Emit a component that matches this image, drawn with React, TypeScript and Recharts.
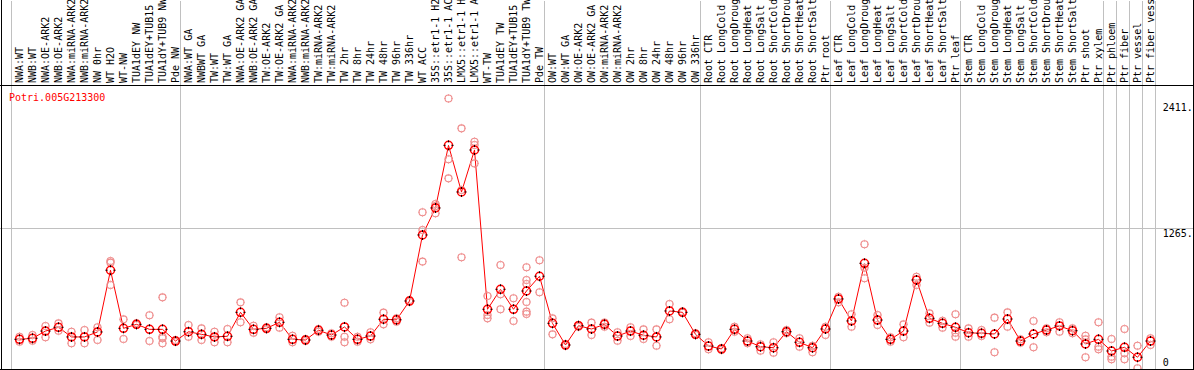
import React from 'react';
import { ComposedChart, Line, Scatter, XAxis, YAxis, ReferenceLine } from 'recharts';

// ---------- data ----------
const title = 'Potri.005G213300';

const labelsNW = ['NWA:WT', 'NWB:WT', 'NWA:OE-ARK2', 'NWB:OE-ARK2', 'NWA:miRNA-ARK2', 'NWB:miRNA-ARK2', 'NW 0hr', 'WT H2O', 'WT-NW', 'TUA1dEY NW', 'TUA1dEY+TUB15', 'TUA1dY+TUB9 NW', 'Pde NW'];
const labelsTW = ['NWA:WT GA', 'NWBWT GA', 'TW:WT', 'TW:WT GA', 'NWA:OE-ARK2 GA', 'NWB:OE-ARK2 GA', 'TW:OE-ARK2', 'TW:OE-ARK2 GA', 'NWA:miRNA-ARK2', 'NWB:miRNA-ARK2', 'TW:miRNA-ARK2', 'TW:miRNA-ARK2', 'TW 2hr', 'TW 8hr', 'TW 24hr', 'TW 48hr', 'TW 96hr', 'TW 336hr', 'WT ACC', '35S::etr1-1 H2', '35S::etr1-1 AC', 'LMX5::etr1-1 H', 'LMX5::etr1-1 A', 'WT-TW', 'TUA1dEY TW', 'TUA1dEY+TUB15', 'TUA1dY+TUB9 TW', 'Pde TW'];
const labelsOW = ['OW:WT', 'OW:WT GA', 'OW:OE-ARK2', 'OW:OE-ARK2 GA', 'OW:miRNA-ARK2', 'OW:miRNA-ARK2', 'OW 2hr', 'OW 8hr', 'OW 24hr', 'OW 48hr', 'OW 96hr', 'OW 336hr'];
const labelsRoot = ['Root CTR', 'Root LongCold', 'Root LongDroug', 'Root LongHeat', 'Root LongSalt', 'Root ShortCold', 'Root ShortDrou', 'Root ShortHeat', 'Root ShortSalt', 'Ptr root'];
const labelsLeaf = ['Leaf CTR', 'Leaf LongCold', 'Leaf LongDroug', 'Leaf LongHeat', 'Leaf LongSalt', 'Leaf ShortCold', 'Leaf ShortDrou', 'Leaf ShortHeat', 'Leaf ShortSalt', 'Ptr leaf'];
const labelsStem = ['Stem CTR', 'Stem LongCold', 'Stem LongDroug', 'Stem LongHeat', 'Stem LongSalt', 'Stem ShortCold', 'Stem ShortDrou', 'Stem ShortHeat', 'Stem ShortSalt', 'Ptr shoot', 'Ptr xylem'];
const labelsPtr = ['Ptr phloem', 'Ptr fiber', 'Ptr vessel', 'Ptr fiber vess'];

const meansNW = [288, 297, 361, 394, 309, 309, 353, 897, 385, 420, 376, 376, 273];
const meansTW = [355, 332, 309, 315, 526, 376, 385, 438, 288, 282, 368, 326, 397, 288, 317, 465, 460, 626, 1208, 1446, 1998, 1587, 1957, 553, 729, 553, 714, 844];
const meansOW = [429, 238, 408, 379, 420, 317, 361, 324, 309, 538, 526, 332];
const meansRoot = [229, 203, 376, 273, 223, 214, 355, 262, 214, 379];
const meansLeaf = [644, 450, 958, 458, 288, 361, 811, 473, 429, 394];
const meansStem = [346, 341, 335, 467, 273, 335, 370, 406, 364, 247, 288];
const meansPtr = [185, 218, 130, 273];

const repsNW = [[311, 267], [326, 276], [405, 306], [429, 364], [355, 253], [370, 253], [394, 282], [978, 964, 767], [464, 291], [429, 414], [500, 273], [658, 311, 297, 253], [282, 267]];
const repsTW = [[414, 311], [385, 282], [355, 262], [379, 262], [614, 438], [408, 346], [394, 376], [482, 391], [320, 262], [291, 273], [379, 355], [341, 311], [611, 311, 262], [311, 267], [350, 288], [523, 420], [473, 444], [635, 617], [1408, 1252, 973], [1481, 1463, 1399], [2411, 1875, 1707], [2148, 1604, 1011], [2030, 2001, 1839], [670, 502, 473], [943, 685, 553], [650, 450], [923, 811, 776, 617, 532, 511], [985, 703]];
const repsOW = [[473, 332], [247, 229], [414, 399], [435, 326], [435, 399], [350, 276], [394, 317], [376, 291], [376, 232], [599, 465], [532, 523], [341, 326]];
const repsRoot = [[262, 200], [209, 194], [399, 355], [297, 253], [244, 188], [262, 170], [370, 341], [297, 223], [232, 174], [399, 326]];
const repsLeaf = [[664, 614], [509, 399], [1126, 919, 826], [502, 414], [306, 267], [420, 306], [840, 767], [517, 435], [452, 391], [509, 346, 311]];
const repsStem = [[385, 311], [370, 317], [479, 174], [526, 399], [288, 258], [450, 218], [385, 350], [438, 355], [385, 341], [320, 288, 130], [438, 223, 200]];
const repsPtr = [[291, 135, 112], [379, 165, 112], [232, 33], [297, 238]];

const yTicks = [0, 1265, 2411];
const yTickLabels = ['0', '1265.', '2411.'];

// ---------- derived tables ----------
const groups = [
  { labels: labelsNW, means: meansNW, reps: repsNW },
  { labels: labelsTW, means: meansTW, reps: repsTW },
  { labels: labelsOW, means: meansOW, reps: repsOW },
  { labels: labelsRoot, means: meansRoot, reps: repsRoot },
  { labels: labelsLeaf, means: meansLeaf, reps: repsLeaf },
  { labels: labelsStem, means: meansStem, reps: repsStem },
  // each Ptr tissue is its own separated column
  ...labelsPtr.map((l, k) => ({ labels: [l], means: [meansPtr[k]], reps: [repsPtr[k]] })),
];

const rows: { i: number; label: string; mean: number }[] = [];
const repPoints: { i: number; v: number }[] = [];
const boundaries: number[] = [];
groups.forEach((g) => {
  boundaries.push(rows.length);
  g.labels.forEach((label, k) => {
    const i = rows.length;
    rows.push({ i, label, mean: g.means[k] });
    g.reps[k].forEach((v) => repPoints.push({ i, v }));
  });
});
boundaries.push(rows.length);
const allLabels = rows.map((r) => r.label);
const xTicks = rows.map((r) => r.i);

// ---------- style / layout ----------
const W = 1194;
const H = 372;
const FONT = 'DejaVu Sans Mono';
const GRID = '#c0c0c0';
const X_DOMAIN: [number, number] = [-1.5, 90.269];
const Y_DOMAIN: [number, number] = [0, 3270.5];
const BOUNDARY_SHIFT = -0.615;
const tickDy: Record<number, number> = { 0: -6.3, 1265: 8, 2411: 12.5 };

const CatTick = (props: any) => {
  const { x, payload } = props;
  const label = allLabels[payload.value] ?? '';
  return (
    <text
      transform={`translate(${x + 3},83) rotate(-90)`}
      fontFamily={FONT}
      fontSize={10}
      fill="#000"
      textAnchor="start"
    >
      {label}
    </text>
  );
};

const ValTick = (props: any) => {
  const { y, payload } = props;
  const idx = yTicks.indexOf(payload.value);
  return (
    <text x={1162.7} y={y + (tickDy[payload.value] ?? 0)} fontFamily={FONT} fontSize={10} fill="#000">
      {yTickLabels[idx]}
    </text>
  );
};

const Marker = ({ cx, cy, r, ring, tick, sw }: any) => {
  if (cx == null || cy == null) return null;
  const a = r - 1;
  const b = r + 1;
  return (
    <g>
      <circle cx={cx} cy={cy} r={r} fill="none" stroke={ring} strokeWidth={sw} />
      <path
        d={`M${cx},${cy - b}V${cy - a}M${cx},${cy + a}V${cy + b}M${cx - b},${cy}H${cx - a}M${cx + a},${cy}H${cx + b}`}
        stroke={tick}
        strokeWidth={1}
      />
    </g>
  );
};

const RepShape = (props: any) => <Marker cx={props.cx} cy={props.cy} r={3.5} ring="#ee8c8c" tick="#f2a0a0" sw={1.1} />;
const MeanDot = (props: any) => <Marker key={props.index} cx={props.cx} cy={props.cy} r={4} ring="#ff0000" tick="#000" sw={1.5} />;

export default function App() {
  return (
    <div style={{ position: 'absolute', left: 0, top: 0, width: 1194, height: 370, overflow: 'hidden', background: '#fff' }}>
      <ComposedChart width={W} height={H} data={rows} margin={{ top: 0, right: 0, bottom: 0, left: 0 }}>
        <XAxis
          type="number"
          dataKey="i"
          domain={X_DOMAIN}
          ticks={xTicks}
          interval={0}
          orientation="top"
          height={1}
          axisLine={false}
          tickLine={false}
          tick={<CatTick />}
          allowDataOverflow
        />
        <YAxis
          type="number"
          domain={Y_DOMAIN}
          ticks={yTicks}
          interval={0}
          orientation="right"
          width={1}
          axisLine={false}
          tickLine={false}
          tick={<ValTick />}
          allowDataOverflow
        />
        <ReferenceLine y={1265} stroke={GRID} strokeWidth={1} />
        {boundaries.map((b) => (
          <ReferenceLine key={b} x={b + BOUNDARY_SHIFT} stroke={GRID} strokeWidth={1} />
        ))}
        <Scatter data={repPoints} dataKey="v" shape={<RepShape />} isAnimationActive={false} />
        <Line
          type="linear"
          dataKey="mean"
          stroke="#ff0000"
          strokeWidth={1}
          dot={<MeanDot />}
          activeDot={false}
          isAnimationActive={false}
        />
      </ComposedChart>
      <svg width={1194} height={370} style={{ position: 'absolute', left: 0, top: 0, pointerEvents: 'none' }}>
        <line x1={1.5} y1={0} x2={1.5} y2={370} stroke="#000" strokeWidth={1} />
        <line x1={1193.5} y1={0} x2={1193.5} y2={370} stroke="#000" strokeWidth={1} />
        <line x1={0} y1={85.5} x2={1194} y2={85.5} stroke="#000" strokeWidth={1} />
        <line x1={0} y1={369.5} x2={1194} y2={369.5} stroke="#000" strokeWidth={1} />
        <text x={9} y={101} fill="#ff0000" fontFamily={FONT} fontSize={10}>
          {title}
        </text>
      </svg>
    </div>
  );
}
